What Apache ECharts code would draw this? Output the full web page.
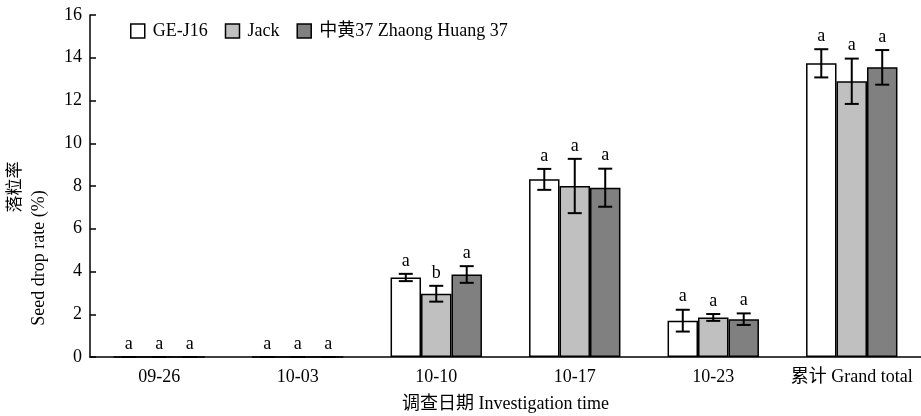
<!DOCTYPE html>
<html>
<head>
<meta charset="utf-8">
<script src="https://cdn.jsdelivr.net/npm/echarts@6/dist/echarts.min.js"></script>
<style>html,body{margin:0;padding:0;background:#fff}#c{width:921px;height:416px}</style>
</head>
<body>
<div id="c"></div>
<script>
var categories = ['09-26', '10-03', '10-10', '10-17', '10-23', '累计 Grand total'];
var seriesNames = ['GE-J16', 'Jack', '中黄37 Zhaong Huang 37'];
var geJ16 = [0, 0, 3.72, 8.31, 1.70, 13.74];
var geJ16Err = [0, 0, 0.17, 0.49, 0.51, 0.66];
var jack = [0, 0, 2.96, 8.00, 1.85, 12.90];
var jackErr = [0, 0, 0.37, 1.27, 0.16, 1.06];
var zh37 = [0, 0, 3.86, 7.92, 1.77, 13.55];
var zh37Err = [0, 0, 0.39, 0.89, 0.27, 0.81];
var geJ16Letters = ['a', 'a', 'a', 'a', 'a', 'a'];
var jackLetters = ['a', 'a', 'b', 'a', 'a', 'a'];
var zh37Letters = ['a', 'a', 'a', 'a', 'a', 'a'];
var yTicks = [0, 2, 4, 6, 8, 10, 12, 14, 16];

var FONT = '"Liberation Serif", "Times New Roman", "Noto Sans CJK SC", serif';
var colors = ['#ffffff', '#c0c0c0', '#808080'];
var means = [geJ16, jack, zh37];
var errs = [geJ16Err, jackErr, zh37Err];
var letters = [geJ16Letters, jackLetters, zh37Letters];
var BAR_FRAC = 0.22;

var errData = [];
var errLetters = [];
for (var s = 0; s < 3; s++) {
  for (var i = 0; i < categories.length; i++) {
    errData.push([i, s, means[s][i], errs[s][i]]);
    errLetters.push(letters[s][i]);
  }
}

var chart = echarts.init(document.getElementById('c'), null, {renderer: 'canvas'});

var barSeries = seriesNames.map(function (name, s) {
  return {
    name: name,
    type: 'bar',
    data: means[s],
    barWidth: (BAR_FRAC * 100) + '%',
    barGap: '0%',
    itemStyle: {color: colors[s], borderColor: '#000', borderWidth: 1.5},
    emphasis: {disabled: true},
    z: 2
  };
});

var option = {
  animation: false,
  backgroundColor: '#fff',
  grid: {left: 90, right: 0, top: 15, bottom: 59, containLabel: false, outerBoundsMode: 'none'},
  legend: {
    left: 125, top: 17,
    itemWidth: 14, itemHeight: 14, itemGap: 17,
    icon: 'rect',
    data: seriesNames,
    textStyle: {fontFamily: FONT, fontSize: 18, color: '#000', padding: [0, 0, 0, 3]},
    itemStyle: {borderColor: '#000', borderWidth: 1.5}
  },
  xAxis: {
    type: 'category',
    data: categories,
    name: '调查日期 Investigation time',
    nameLocation: 'middle',
    nameGap: 38,
    nameTextStyle: {fontFamily: FONT, fontSize: 18, color: '#000'},
    axisLine: {lineStyle: {color: '#000', width: 1.5}},
    axisTick: {inside: true, length: 6, lineStyle: {color: '#000', width: 1.5}},
    axisLabel: {fontFamily: FONT, fontSize: 18, color: '#000', margin: 11, interval: 0},
    splitLine: {show: false}
  },
  yAxis: {
    type: 'value',
    min: 0, max: 16, interval: 2,
    axisLine: {show: true, lineStyle: {color: '#000', width: 1.5}},
    axisTick: {show: true, inside: true, length: 6, lineStyle: {color: '#000', width: 1.5}},
    axisLabel: {fontFamily: FONT, fontSize: 18, color: '#000', margin: 8,
      formatter: function (v) { return yTicks.indexOf(v) >= 0 ? String(v) : ''; }},
    splitLine: {show: false}
  },
  graphic: [
    {type: 'text', x: 16, y: 187, rotation: Math.PI / 2,
      style: {text: '落粒率', font: '17px ' + FONT, fill: '#000', textAlign: 'center', textVerticalAlign: 'middle'}},
    {type: 'text', x: 39, y: 258, rotation: Math.PI / 2,
      style: {text: 'Seed drop rate (%)', font: '18px ' + FONT, fill: '#000', textAlign: 'center', textVerticalAlign: 'middle'}}
  ],
  series: barSeries.concat([{
    type: 'custom',
    name: 'err',
    data: errData,
    z: 5,
    silent: true,
    encode: {x: 0, y: 2},
    renderItem: function (params, api) {
      var cat = api.value(0), s = api.value(1), m = api.value(2), e = api.value(3);
      var band = api.size([1, 0])[0];
      var bw = band * BAR_FRAC;
      var cx = api.coord([cat, 0])[0] + (s - 1) * bw;
      var yTop = api.coord([cat, m + e])[1];
      var yBot = api.coord([cat, m - e])[1];
      var hw = 7;
      var ls = {stroke: '#000', lineWidth: 2};
      return {
        type: 'group',
        children: [
          {type: 'line', shape: {x1: cx, y1: yTop, x2: cx, y2: yBot}, style: ls},
          {type: 'line', shape: {x1: cx - hw, y1: yTop, x2: cx + hw, y2: yTop}, style: ls},
          {type: 'line', shape: {x1: cx - hw, y1: yBot, x2: cx + hw, y2: yBot}, style: ls},
          {type: 'text', x: cx, y: yTop - 4,
            style: {text: errLetters[params.dataIndex], font: '18px ' + FONT, fill: '#000',
              textAlign: 'center', textVerticalAlign: 'bottom'}}
        ]
      };
    }
  }])
};
chart.setOption(option);
</script>
</body>
</html>
